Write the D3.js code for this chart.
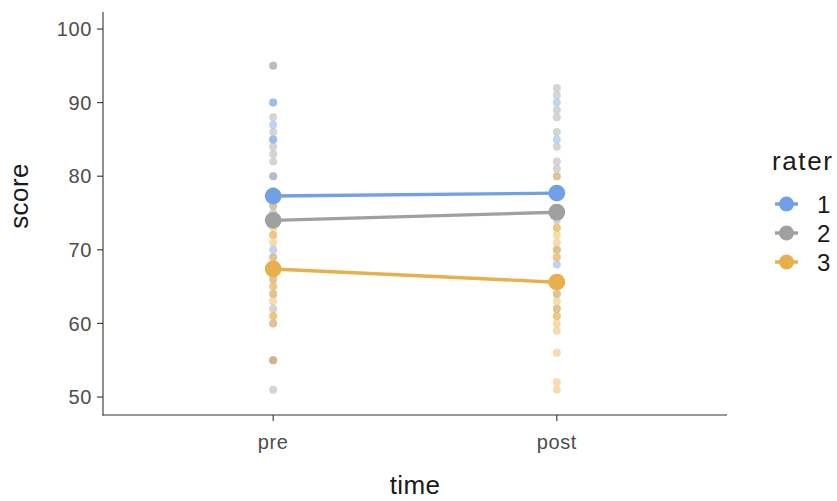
<!DOCTYPE html>
<html><head><meta charset="utf-8">
<script src="https://cdn.jsdelivr.net/npm/d3@7"></script>
<style>body{margin:0;background:#fff}svg{display:block}text{font-family:"Liberation Sans",Arial,Helvetica,sans-serif}</style>
</head><body><div id="chart"></div>
<script>
const times = ["pre", "post"];
const raters = ["1", "2", "3"];
const colors = ["#72a0e6", "#a0a0a0", "#e8b04a"];
const yTicks = [50, 60, 70, 80, 90, 100];
// individual scores per rater
const r1Pre  = [90, 90, 87, 85, 85, 80, 75, 70];
const r1Post = [90, 85, 68];
const r2Pre  = [95, 95, 88, 86, 84, 83, 82, 80, 78, 76, 69, 66, 64, 62, 60, 55, 55, 51];
const r2Post = [92, 91, 89, 88, 86, 84, 82, 81, 80, 74, 70, 64, 62];
const r3Pre  = [76, 73, 72, 72, 71, 69, 66, 65, 65, 64, 63, 61, 61, 60, 55];
const r3Post = [80, 73, 73, 72, 71, 70, 69, 69, 64, 63, 62, 61, 61, 60, 59, 56, 52, 51];
// mean scores per rater (pre, post)
const mean1 = [77.3, 77.7];
const mean2 = [74.0, 75.1];
const mean3 = [67.4, 65.6];

const W = 837, H = 501;
const svg = d3.select("#chart").append("svg").attr("width", W).attr("height", H);
const x = d3.scalePoint().domain(times).range([103, 727]).padding(0.6);
const y = d3.scaleLinear().domain([50, 100]).range([397, 29]);
const yBottom = 415, yTop = 12;

const pts = [];
[[r1Pre, r1Post], [r2Pre, r2Post], [r3Pre, r3Post]].forEach((arr, i) => {
  arr.forEach((vals, t) => vals.forEach(v => pts.push({r: i, t: times[t], v})));
});
svg.append("g").selectAll("circle").data(pts).join("circle")
  .attr("cx", d => x(d.t)).attr("cy", d => y(d.v)).attr("r", 4)
  .attr("fill", d => colors[d.r]).attr("fill-opacity", 0.45);

const means = [mean1, mean2, mean3];
const line = d3.line().x((d, i) => x(times[i])).y(d => y(d));
means.forEach((m, i) => {
  svg.append("path").attr("d", line(m)).attr("fill", "none")
    .attr("stroke", colors[i]).attr("stroke-width", 3.4);
});
means.forEach((m, i) => {
  svg.append("g").selectAll("circle").data(m).join("circle")
    .attr("cx", (d, j) => x(times[j])).attr("cy", d => y(d)).attr("r", 8.4)
    .attr("fill", colors[i]);
});

// axes
const ax = svg.append("g").attr("stroke", "#333").attr("stroke-width", 1.1);
ax.append("line").attr("x1", 103).attr("x2", 103).attr("y1", yTop).attr("y2", yBottom + 0.5);
ax.append("line").attr("x1", 102.5).attr("x2", 727).attr("y1", yBottom).attr("y2", yBottom);
yTicks.forEach(t => {
  ax.append("line").attr("x1", 97).attr("x2", 103).attr("y1", y(t)).attr("y2", y(t));
  svg.append("text").attr("x", 92).attr("y", y(t)).attr("dy", "0.36em")
    .attr("text-anchor", "end").attr("font-size", 20).attr("letter-spacing", 0.6)
    .attr("fill", "#4d4d4d").text(t);
});
times.forEach(t => {
  ax.append("line").attr("x1", x(t)).attr("x2", x(t)).attr("y1", yBottom).attr("y2", yBottom + 6);
  svg.append("text").attr("x", x(t)).attr("y", 449).attr("text-anchor", "middle")
    .attr("font-size", 20).attr("letter-spacing", 0.6).attr("fill", "#4d4d4d").text(t);
});
svg.append("text").attr("x", 415).attr("y", 494).attr("text-anchor", "middle")
  .attr("font-size", 26).attr("letter-spacing", 0.4).attr("fill", "#1a1a1a").text("time");
svg.append("text").attr("transform", "translate(28,196) rotate(-90)").attr("text-anchor", "middle")
  .attr("font-size", 26).attr("letter-spacing", 0.4).attr("fill", "#1a1a1a").text("score");

// legend
const lg = svg.append("g");
lg.append("text").attr("x", 772).attr("y", 170).attr("font-size", 26).attr("letter-spacing", 1.6)
  .attr("fill", "#1a1a1a").text("rater");
raters.forEach((r, i) => {
  const cy = 204 + i * 29;
  lg.append("line").attr("x1", 775).attr("x2", 798).attr("y1", cy).attr("y2", cy)
    .attr("stroke", colors[i]).attr("stroke-width", 3.4);
  lg.append("circle").attr("cx", 786.5).attr("cy", cy).attr("r", 7.5).attr("fill", colors[i]);
  lg.append("text").attr("x", 817).attr("y", cy).attr("dy", "0.36em").attr("font-size", 24)
    .attr("fill", "#1a1a1a").text(r);
});
</script></body></html>
